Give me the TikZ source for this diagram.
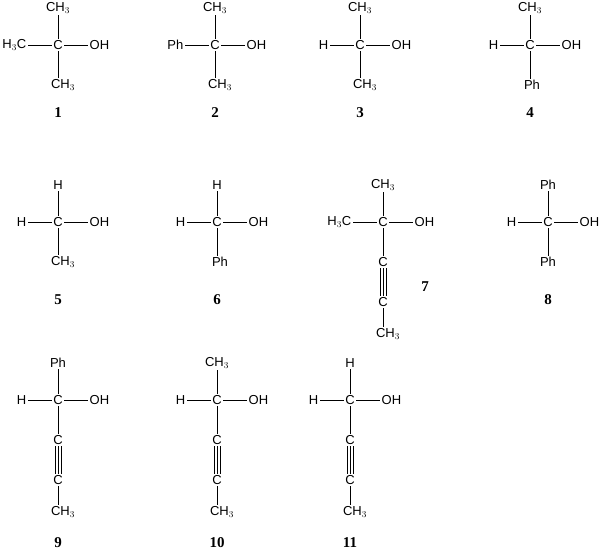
\documentclass[tikz,border=0pt]{standalone}
\usepackage{fontspec}
\setmainfont{Liberation Serif}
\newfontfamily\atomfont{Liberation Sans}
\begin{document}
\begin{tikzpicture}[x=1pt,y=-1pt,
  atm/.style={font=\atomfont\fontsize{13}{15}\selectfont,inner sep=1.5pt},
  lab/.style={font=\bfseries\fontsize{15}{17}\selectfont},
  bd/.style={line width=1pt}]
\useasboundingbox (0,0) rectangle (600,555);
\newcommand\mol[6]{% #1 prefix, #2 x, #3 y, #4 top, #5 left, #6 right
  \node[atm] (#1c) at (#2,#3) {C};
  \node[atm] (#1t) at (#2,#3-37) {#4};
  \node[atm,anchor=east] (#1l) at (#2-30,#3) {#5};
  \node[atm,anchor=west] (#1r) at (#2+30,#3) {#6};
  \draw[bd] (#1c) -- (#1t) (#1c) -- (#1l) (#1c) -- (#1r);}
\newcommand\ch{CH$_3$}
% row 1
\mol{a}{58}{45}{\ch}{H$_3$C}{OH}
\node[atm] (ab) at (63,85) {\ch}; \draw[bd] (ac) -- (ab.north -| ac);
\node[lab] (la) at (58,113) {1};
\mol{b}{215}{45}{\ch}{Ph}{OH}
\node[atm] (bb) at (220,85) {\ch}; \draw[bd] (bc) -- (bb.north -| bc);
\node[lab] (lb) at (215,113) {2};
\mol{c}{360}{45}{\ch}{H}{OH}
\node[atm] (cb) at (365,85) {\ch}; \draw[bd] (cc) -- (cb.north -| cc);
\node[lab] (lc) at (360,113) {3};
\mol{d}{530}{45}{\ch}{H}{OH}
\node[atm] (db) at (532,85) {Ph}; \draw[bd] (dc) -- (db.north -| dc);
\node[lab] (ld) at (530,113) {4};
% row 2
\mol{e}{58}{222}{H}{H}{OH}
\node[atm] (eb) at (63,262) {\ch}; \draw[bd] (ec) -- (eb.north -| ec);
\node[lab] (le) at (58,300) {5};
\mol{f}{217}{222}{H}{H}{OH}
\node[atm] (fb) at (220,262) {Ph}; \draw[bd] (fc) -- (fb.north -| fc);
\node[lab] (lf) at (217,300) {6};
\mol{g}{383}{222}{\ch}{H$_3$C}{OH}
\node[atm] (g1) at (383,262) {C}; \node[atm] (g2) at (383,302) {C};
\node[atm] (gb) at (388,334) {\ch};
\draw[bd] (gc) -- (g1) (g2) -- (gb.north -| g2);
\foreach \d in {-3,0,3} \draw[bd] ([xshift=\d pt]g1.south) -- ([xshift=\d pt]g2.north);
\node[lab] (lg) at (425,287) {7};
\mol{h}{548}{222}{Ph}{H}{OH}
\node[atm] (hb) at (548,262) {Ph}; \draw[bd] (hc) -- (hb);
\node[lab] (lh) at (548,300) {8};
% row 3
\mol{i}{58}{400}{Ph}{H}{OH}
\node[atm] (i1) at (58,440) {C}; \node[atm] (i2) at (58,480) {C};
\node[atm] (ib) at (63,512) {\ch};
\draw[bd] (ic) -- (i1) (i2) -- (ib.north -| i2);
\foreach \d in {-3,0,3} \draw[bd] ([xshift=\d pt]i1.south) -- ([xshift=\d pt]i2.north);
\node[lab] (li) at (58,543) {9};
\mol{j}{217}{400}{\ch}{H}{OH}
\node[atm] (j1) at (217,440) {C}; \node[atm] (j2) at (217,480) {C};
\node[atm] (jb) at (222,512) {\ch};
\draw[bd] (jc) -- (j1) (j2) -- (jb.north -| j2);
\foreach \d in {-3,0,3} \draw[bd] ([xshift=\d pt]j1.south) -- ([xshift=\d pt]j2.north);
\node[lab] (lj) at (217,543) {10};
\mol{k}{350}{400}{H}{H}{OH}
\node[atm] (k1) at (350,440) {C}; \node[atm] (k2) at (350,480) {C};
\node[atm] (kb) at (355,512) {\ch};
\draw[bd] (kc) -- (k1) (k2) -- (kb.north -| k2);
\foreach \d in {-3,0,3} \draw[bd] ([xshift=\d pt]k1.south) -- ([xshift=\d pt]k2.north);
\node[lab] (lk) at (350,543) {11};
\end{tikzpicture}
\end{document}
